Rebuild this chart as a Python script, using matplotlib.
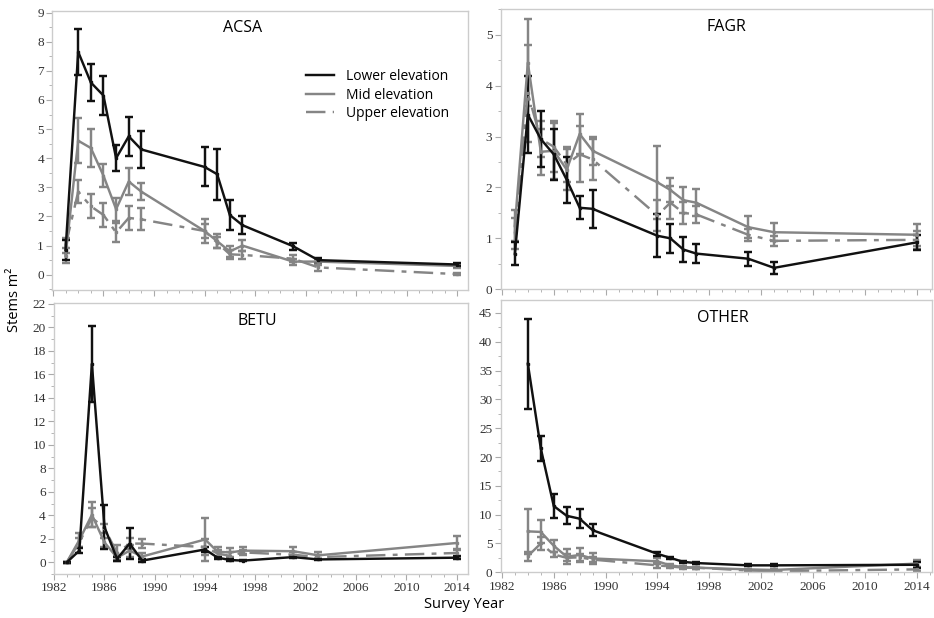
import numpy as np
import matplotlib
matplotlib.use("Agg")
import matplotlib.pyplot as plt
from matplotlib.lines import Line2D
from matplotlib.ticker import MultipleLocator

## Data ------------------------

years = [1983, 1984, 1985, 1986, 1987, 1988, 1989, 1994, 1995, 1996, 1997, 2001, 2003, 2014]
years_other = years[1:]

# ACSA
acsa_low = [0.85, 7.65, 6.6, 6.15, 4.0, 4.75, 4.3, 3.7, 3.45, 2.05, 1.7, 0.98, 0.5, 0.35]
acsa_low_err = [0.35, 0.78, 0.62, 0.68, 0.44, 0.68, 0.65, 0.67, 0.88, 0.5, 0.3, 0.12, 0.08, 0.06]
acsa_mid = [0.65, 4.6, 4.35, 3.4, 2.25, 3.2, 2.85, 1.5, 1.15, 0.8, 1.0, 0.45, 0.45, 0.3]
acsa_mid_err = [0.25, 0.78, 0.65, 0.4, 0.4, 0.45, 0.3, 0.25, 0.25, 0.18, 0.2, 0.1, 0.1, 0.06]
acsa_up = [1.0, 2.85, 2.35, 2.05, 1.45, 1.95, 1.9, 1.5, 1.1, 0.7, 0.68, 0.55, 0.25, 0.02]
acsa_up_err = [0.25, 0.4, 0.42, 0.42, 0.33, 0.4, 0.38, 0.4, 0.2, 0.15, 0.15, 0.12, 0.12, 0.04]

# FAGR
fagr_low = [0.7, 3.43, 2.95, 2.65, 2.15, 1.6, 1.58, 1.05, 1.0, 0.78, 0.7, 0.6, 0.42, 0.92]
fagr_low_err = [0.22, 0.75, 0.55, 0.5, 0.45, 0.23, 0.37, 0.42, 0.28, 0.24, 0.19, 0.14, 0.12, 0.14]
fagr_mid = [1.25, 4.45, 2.7, 2.72, 2.35, 3.05, 2.72, 2.1, 1.95, 1.75, 1.7, 1.22, 1.12, 1.07]
fagr_mid_err = [0.3, 0.85, 0.45, 0.55, 0.4, 0.4, 0.27, 0.72, 0.23, 0.25, 0.27, 0.22, 0.18, 0.22]
fagr_up = [1.1, 3.85, 2.95, 2.8, 2.45, 2.65, 2.55, 1.45, 1.7, 1.5, 1.47, 1.07, 0.95, 0.97]
fagr_up_err = [0.3, 0.95, 0.35, 0.5, 0.35, 0.55, 0.4, 0.3, 0.32, 0.22, 0.17, 0.12, 0.1, 0.17]

# BETU
betu_low = [0.0, 1.0, 16.9, 3.0, 0.3, 1.6, 0.15, 1.1, 0.4, 0.2, 0.15, 0.45, 0.25, 0.4]
betu_low_err = [0.05, 0.2, 3.25, 1.9, 0.15, 1.3, 0.1, 0.2, 0.1, 0.08, 0.06, 0.1, 0.08, 0.15]
betu_mid = [0.0, 1.9, 4.05, 1.7, 0.4, 1.0, 0.5, 1.95, 0.9, 0.85, 1.0, 0.95, 0.6, 1.65]
betu_mid_err = [0.05, 0.6, 1.05, 0.4, 0.2, 0.5, 0.3, 1.8, 0.4, 0.4, 0.3, 0.4, 0.3, 0.6]
betu_up = [0.0, 1.7, 3.8, 2.9, 0.8, 1.6, 1.6, 1.3, 0.75, 0.55, 0.85, 0.65, 0.45, 0.8]
betu_up_err = [0.05, 0.4, 0.8, 0.4, 0.65, 0.5, 0.4, 0.7, 0.3, 0.3, 0.2, 0.2, 0.2, 0.3]

# OTHER (no 1983 survey)
other_low = [36.2, 21.5, 11.5, 9.8, 9.3, 7.3, 3.2, 2.5, 1.8, 1.6, 1.2, 1.2, 1.3]
other_low_err = [7.8, 2.2, 2.0, 1.5, 1.7, 1.0, 0.3, 0.2, 0.15, 0.2, 0.15, 0.15, 0.5]
other_mid = [7.1, 7.0, 4.6, 2.7, 3.0, 2.4, 1.9, 1.2, 0.9, 0.8, 0.5, 0.4, 1.5]
other_mid_err = [3.9, 2.0, 1.0, 1.3, 1.2, 0.9, 0.5, 0.3, 0.2, 0.2, 0.15, 0.15, 0.6]
other_up = [2.8, 5.0, 3.1, 2.5, 2.6, 2.2, 1.2, 1.0, 0.8, 0.8, 0.3, 0.2, 0.5]
other_up_err = [0.8, 1.1, 0.5, 0.6, 0.6, 0.5, 0.4, 0.2, 0.15, 0.15, 0.1, 0.1, 0.3]

labels = ["Lower elevation", "Mid elevation", "Upper elevation"]

## Styling ---------------------

BLACK = "#111111"
GRAY = "#858585"
EDGE = "#cccccc"
TICKFONT = "Liberation Serif"
SANS = "Open Sans"
DASHDOT = (0, (8, 3, 2, 3))
LW = 1.75

plt.rcParams["font.family"] = [SANS, "DejaVu Sans"]


def draw_panel(ax, x, low, low_e, mid, mid_e, up, up_e, ylim, ymajor, yminor,
               xlim, show_xlabels):
    series = [(up, up_e, GRAY, DASHDOT),
              (mid, mid_e, GRAY, "-"),
              (low, low_e, BLACK, "-")]
    for y, e, col, ls in series:
        line = ax.errorbar(x, y, yerr=e, color=col, lw=LW, elinewidth=LW,
                           capsize=2.6, capthick=LW, marker="s", ms=2)
        line[0].set_linestyle(ls)
    ax.set_xlim(*xlim)
    ax.set_ylim(*ylim)
    ax.xaxis.set_major_locator(MultipleLocator(4, offset=2))
    ax.xaxis.set_minor_locator(MultipleLocator(1))
    ax.yaxis.set_major_locator(MultipleLocator(ymajor))
    ax.yaxis.set_minor_locator(MultipleLocator(yminor))
    for s in ax.spines.values():
        s.set_color(EDGE)
        s.set_linewidth(1.0)
    ax.tick_params(which="both", color="#aaaaaa", labelcolor="#333333",
                   labelsize=9.5, pad=2, labelfontfamily=TICKFONT)
    ax.tick_params(which="major", length=4)
    ax.tick_params(which="minor", length=2.5)
    if not show_xlabels:
        ax.tick_params(axis="x", labelbottom=False)
    return ax


fig = plt.figure(figsize=(9.34, 6.18), dpi=100)

ax1 = fig.add_axes([0.056, 0.531, 0.445, 0.451])
ax2 = fig.add_axes([0.536, 0.532, 0.462, 0.453])
ax3 = fig.add_axes([0.058, 0.071, 0.443, 0.439])
ax4 = fig.add_axes([0.536, 0.074, 0.462, 0.441])

draw_panel(ax1, years, acsa_low, acsa_low_err, acsa_mid, acsa_mid_err,
           acsa_up, acsa_up_err, (-0.52, 9.05), 1, 0.5,
           (1981.95, 2014.85), False)
draw_panel(ax2, years, fagr_low, fagr_low_err, fagr_mid, fagr_mid_err,
           fagr_up, fagr_up_err, (0, 5.5), 1, 0.5,
           (1981.9, 2015.2), False)
draw_panel(ax3, years, betu_low, betu_low_err, betu_mid, betu_mid_err,
           betu_up, betu_up_err, (-1.0, 22.1), 2, 1,
           (1982, 2014.9), True)
draw_panel(ax4, years_other, other_low, other_low_err, other_mid, other_mid_err,
           other_up, other_up_err, (0, 47.3), 5, 2.5,
           (1981.9, 2015.2), True)

# Panel titles
ax1.text(0.457, 0.94, "ACSA", transform=ax1.transAxes, ha="center", va="center", fontsize=11.5)
ax2.text(0.524, 0.935, "FAGR", transform=ax2.transAxes, ha="center", va="center", fontsize=11.5)
ax3.text(0.49, 0.934, "BETU", transform=ax3.transAxes, ha="center", va="center", fontsize=11.5)
ax4.text(0.515, 0.934, "OTHER", transform=ax4.transAxes, ha="center", va="center", fontsize=11.5)

# Legend in ACSA panel, plain line handles
handles = [Line2D([], [], color=BLACK, lw=LW),
           Line2D([], [], color=GRAY, lw=LW),
           Line2D([], [], color=GRAY, lw=LW, linestyle=DASHDOT)]
ax1.legend(handles, labels, loc="upper left", bbox_to_anchor=(0.58, 0.837),
           frameon=False, fontsize=10, handlelength=2.0, handletextpad=0.9,
           labelspacing=0.25)

fig.text(0.016, 0.515, "Stems m²", rotation=90, ha="center", va="center", fontsize=10.5)
fig.text(0.497, 0.022, "Survey Year", ha="center", va="center", fontsize=10.5)

fig.savefig("out.png", dpi=100)
